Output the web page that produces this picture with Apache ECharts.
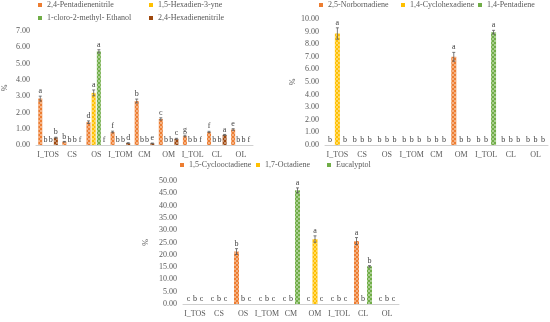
<!DOCTYPE html>
<html><head><meta charset="utf-8">
<script src="https://cdn.jsdelivr.net/npm/echarts@6/dist/echarts.min.js"></script>
<style>html,body{margin:0;padding:0;background:#fff}#c{width:550px;height:322px}</style>
</head><body><div id="c"></div>
<script>
const categories = ['I_TOS','CS','OS','I_TOM','CM','OM','I_TOL','CL','OL'];

// Panel A (top-left)
const aNames = ['2,4-Pentadienenitrile','1,5-Hexadien-3-yne','1-cloro-2-methyl- Ethanol','2,4-Hexadienenitrile'];
const aPentadienenitrile = [2.85,0.20,1.40,0.80,2.70,1.60,0.55,0.80,0.95];
const aHexadienyne       = [0,0,3.20,0,0,0,0,0,0];
const aCloroEthanol      = [0,0,5.75,0,0,0,0,0,0];
const aHexadienenitrile  = [0.45,0,0,0.12,0.10,0.38,0,0.62,0];
const aPentadienenitrileErr = [0.15,0.02,0.08,0.05,0.12,0.07,0.05,0.04,0.05];
const aHexadienyneErr       = [0,0,0.18,0,0,0,0,0,0];
const aCloroEthanolErr      = [0,0,0.10,0,0,0,0,0,0];
const aHexadienenitrileErr  = [0.03,0,0,0.02,0.02,0.03,0,0.03,0];
const aPentadienenitrileLet = ['a','b','d','f','b','c','g','f','e'];
const aHexadienyneLet       = ['b','b','a','b','b','b','b','b','b'];
const aCloroEthanolLet      = ['b','b','a','b','b','b','b','b','b'];
const aHexadienenitrileLet  = ['b','f','f','d','e','c','f','a','f'];

// Panel B (top-right)
const bNames = ['2,5-Norbornadiene','1,4-Cyclohexadiene','1,4-Pentadiene'];
const bNorbornadiene   = [0,0,0,0,0,7.00,0,0,0];
const bCyclohexadiene  = [8.85,0,0,0,0,0,0,0,0];
const bPentadiene      = [0,0,0,0,0,0,8.95,0,0];
const bNorbornadieneErr  = [0,0,0,0,0,0.35,0,0,0];
const bCyclohexadieneErr = [0.45,0,0,0,0,0,0,0,0];
const bPentadieneErr     = [0,0,0,0,0,0,0.15,0,0];
const bNorbornadieneLet  = ['b','b','b','b','b','a','b','b','b'];
const bCyclohexadieneLet = ['a','b','b','b','b','b','b','b','b'];
const bPentadieneLet     = ['b','b','b','b','b','b','a','b','b'];

// Panel C (bottom)
const cNames = ['1,5-Cyclooctadiene','1,7-Octadiene','Eucalyptol'];
const cCyclooctadiene = [0,0,21.3,0,0,0,0,25.6,0];
const cOctadiene      = [0,0,0,0,0,26.4,0,0,0];
const cEucalyptol     = [0,0,0,0,46.2,0,0,15.3,0];
const cCyclooctadieneErr = [0,0,1.2,0,0,0,0,1.4,0];
const cOctadieneErr      = [0,0,0,0,0,1.3,0,0,0];
const cEucalyptolErr     = [0,0,0,0,1.0,0,0,0.3,0];
const cCyclooctadieneLet = ['c','c','b','c','c','c','c','a','c'];
const cOctadieneLet      = ['b','b','b','b','b','a','b','b','b'];
const cEucalyptolLet     = ['c','c','c','c','a','c','c','b','c'];

const FONT = 'Liberation Serif';
const TXT = '#595959';
const barColors = ['#ED7D31','#FFC000','#70AD47','#9E480E'];
const legColors = ['#ED7D31','#FFC000','#70AD47','#9E480E'];
const decal = {symbol:'rect', symbolSize:1, color:'rgba(255,255,255,0.4)',
  dashArrayX:[[2,2],[0,2,2,0]], dashArrayY:[2,0]};

const panels = [
  {names:aNames, vals:[aPentadienenitrile,aHexadienyne,aCloroEthanol,aHexadienenitrile],
   errs:[aPentadienenitrileErr,aHexadienyneErr,aCloroEthanolErr,aHexadienenitrileErr],
   lets:[aPentadienenitrileLet,aHexadienyneLet,aCloroEthanolLet,aHexadienenitrileLet],
   colors:[0,1,2,3], bw:4, gap:1.2, max:7, interval:1,
   grid:{left:33,top:31,width:220,height:114}, nameGap:27,
   legend:[[38,1],[149,1],[38,14],[149,14]]},
  {names:bNames, vals:[bNorbornadiene,bCyclohexadiene,bPentadiene],
   errs:[bNorbornadieneErr,bCyclohexadieneErr,bPentadieneErr],
   lets:[bNorbornadieneLet,bCyclohexadieneLet,bPentadieneLet],
   colors:[0,1,2], bw:5, gap:2.5, max:10, interval:1,
   grid:{left:325,top:19,width:223,height:126}, nameGap:27,
   legend:[[319,1],[401,1],[478,1]]},
  {names:cNames, vals:[cCyclooctadiene,cOctadiene,cEucalyptol],
   errs:[cCyclooctadieneErr,cOctadieneErr,cEucalyptolErr],
   lets:[cCyclooctadieneLet,cOctadieneLet,cEucalyptolLet],
   colors:[0,1,2], bw:5, gap:1.5, max:50, interval:5,
   grid:{left:183,top:181,width:216,height:123}, nameGap:33,
   legend:[[180,161],[256,161],[327,161]]}
];

const grid=[], xAxis=[], yAxis=[], series=[], legend=[];
panels.forEach((p,pi)=>{
  grid.push(p.grid);
  xAxis.push({type:'category', gridIndex:pi, data:categories,
    axisLine:{lineStyle:{color:'#D0D0D0',width:1}}, axisTick:{show:false},
    axisLabel:{fontFamily:FONT,fontSize:8,color:TXT,margin:6,interval:0}});
  yAxis.push({type:'value', gridIndex:pi, min:0, max:p.max, interval:p.interval,
    name:'%', nameLocation:'middle', nameGap:p.nameGap, nameRotate:90,
    nameTextStyle:{fontFamily:FONT,fontSize:8,color:TXT},
    axisLine:{show:false}, axisTick:{show:false}, splitLine:{show:false},
    axisLabel:{fontFamily:FONT,fontSize:8,color:TXT,margin:6,formatter:v=>v.toFixed(2)}});
  const n = p.names.length;
  p.names.forEach((nm,si)=>{
    series.push({type:'bar', name:nm, xAxisIndex:pi, yAxisIndex:pi, data:p.vals[si],
      barWidth:p.bw, barGap:(p.gap/p.bw*100)+'%',
      itemStyle:{color:barColors[p.colors[si]], decal:decal}, silent:true});
    legend.push({data:[{name:nm, itemStyle:{color:legColors[p.colors[si]], decal:'none'}}], left:p.legend[si][0], top:p.legend[si][1],
      icon:'rect', itemWidth:4, itemHeight:4, itemGap:2, padding:0, selectedMode:false,
      textStyle:{fontFamily:FONT,fontSize:8,color:TXT}});
  });
  p.names.forEach((nm,si)=>{
    const offset = (si-(n-1)/2)*(p.bw+p.gap);
    const lets = p.lets[si];
    series.push({type:'custom', xAxisIndex:pi, yAxisIndex:pi, silent:true, z:5,
      data:p.vals[si].map((v,i)=>[i,v,p.errs[si][i]]),
      renderItem:(params,api)=>{
        const ci=api.value(0), v=api.value(1), e=api.value(2);
        const t=api.coord([ci,v+e]), b=api.coord([ci,v-e]);
        const x=t[0]+offset;
        const ch=[];
        if(e>0){
          const ls={stroke:'#595959',lineWidth:0.8};
          ch.push({type:'line',shape:{x1:x,y1:t[1],x2:x,y2:b[1]},style:ls});
          ch.push({type:'line',shape:{x1:x-1.5,y1:t[1],x2:x+1.5,y2:t[1]},style:ls});
          ch.push({type:'line',shape:{x1:x-1.5,y1:b[1],x2:x+1.5,y2:b[1]},style:ls});
        }
        ch.push({type:'text',style:{text:lets[params.dataIndex],x:x,y:t[1]-1,align:'center',verticalAlign:'bottom',
          fontFamily:FONT,fontSize:8,fill:'#404040'}});
        return {type:'group',children:ch};
      }});
  });
});

const chart = echarts.init(document.getElementById('c'),null,{renderer:'canvas'});
chart.setOption({animation:false, backgroundColor:'#fff', grid, xAxis, yAxis, series, legend});
</script></body></html>
